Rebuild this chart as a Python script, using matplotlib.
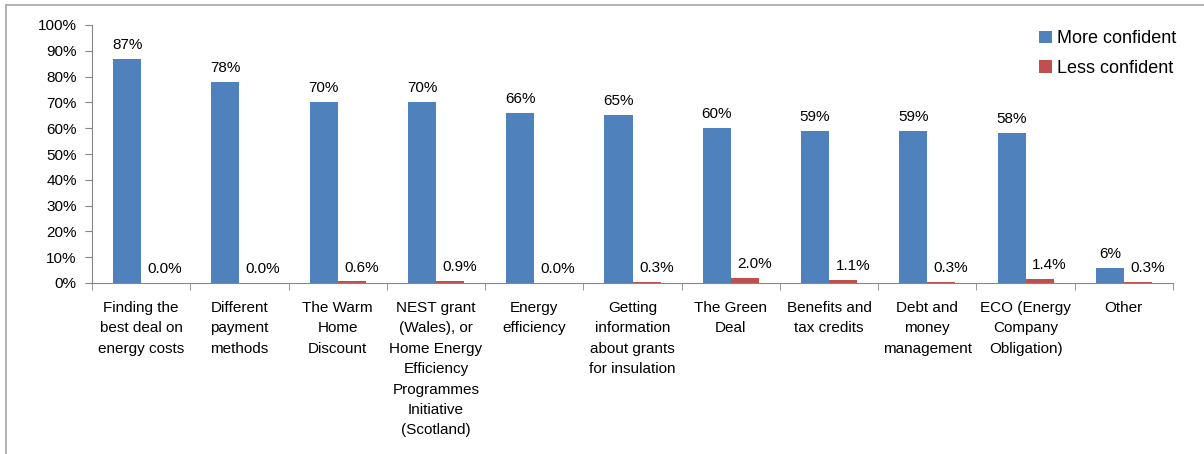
import matplotlib.pyplot as plt
import numpy as np
from matplotlib.lines import Line2D
from matplotlib.patches import Patch

plt.rcParams['font.family'] = ['Liberation Sans', 'DejaVu Sans']

categories = [
    'Finding the\nbest deal on\nenergy costs',
    'Different\npayment\nmethods',
    'The Warm\nHome\nDiscount',
    'NEST grant\n(Wales), or\nHome Energy\nEfficiency\nProgrammes\nInitiative\n(Scotland)',
    'Energy\nefficiency',
    'Getting\ninformation\nabout grants\nfor insulation',
    'The Green\nDeal',
    'Benefits and\ntax credits',
    'Debt and\nmoney\nmanagement',
    'ECO (Energy\nCompany\nObligation)',
    'Other',
]
more_confident = [87, 78, 70, 70, 66, 65, 60, 59, 59, 58, 6]
less_confident = [0.0, 0.0, 0.6, 0.9, 0.0, 0.3, 2.0, 1.1, 0.3, 1.4, 0.3]

blue = '#4f81bd'
red = '#c0504d'
grey = '#868686'

fig = plt.figure(figsize=(12.04, 4.54), dpi=100)
ax = fig.add_axes([92 / 1204, 1 - 283 / 454, 1081 / 1204, 258 / 454])

x = np.arange(len(categories))
w = 0.285
b1 = ax.bar(x - w / 2, more_confident, w, color=blue, label='More confident')
b2 = ax.bar(x + w / 2, less_confident, w, color=red, label='Less confident')

for rect, v in zip(b1, more_confident):
    ax.annotate(f'{v:.0f}%', (rect.get_x() + rect.get_width() / 2, v),
                xytext=(0, 5), textcoords='offset points',
                ha='center', va='bottom', fontsize=11)
for rect, v in zip(b2, less_confident):
    ax.annotate(f'{v:.1f}%', (rect.get_x() + rect.get_width() / 2, v),
                xytext=(7, 5), textcoords='offset points',
                ha='center', va='bottom', fontsize=11)

ax.set_xlim(-0.5, len(categories) - 0.5)
ax.set_ylim(0, 100)
ax.set_yticks(np.arange(0, 101, 10))
ax.set_yticklabels([f'{v}%' for v in range(0, 101, 10)], fontsize=11)
ax.set_xticks(x)
ax.set_xticklabels(categories, fontsize=11, linespacing=1.58, va='top')
ax.set_xticks(np.arange(-0.5, len(categories)), minor=True)
ax.tick_params(axis='x', which='major', length=0, pad=13)
ax.tick_params(axis='x', which='minor', length=5, color=grey, direction='out')
ax.tick_params(axis='y', length=5, color=grey, direction='out', pad=6)

for s in ('top', 'right'):
    ax.spines[s].set_visible(False)
for s in ('left', 'bottom'):
    ax.spines[s].set_color(grey)

handles = [Patch(facecolor=blue, label='More confident'),
           Patch(facecolor=red, label='Less confident')]
fig.legend(handles=handles, loc='upper left', bbox_to_anchor=(1023 / 1204, 1 - 14 / 454),
           frameon=False, fontsize=13, handlelength=0.7, handleheight=0.7,
           handletextpad=0.3, labelspacing=0.7)

# outer chart border
fig.add_artist(Line2D([6 / 1204, 6 / 1204], [0, 1 - 5 / 454], color='#a6a6a6', lw=1.2,
                      transform=fig.transFigure))
fig.add_artist(Line2D([6 / 1204, 1], [1 - 5 / 454, 1 - 5 / 454], color='#a6a6a6', lw=1.2,
                      transform=fig.transFigure))

fig.savefig('out.png', dpi=100)
